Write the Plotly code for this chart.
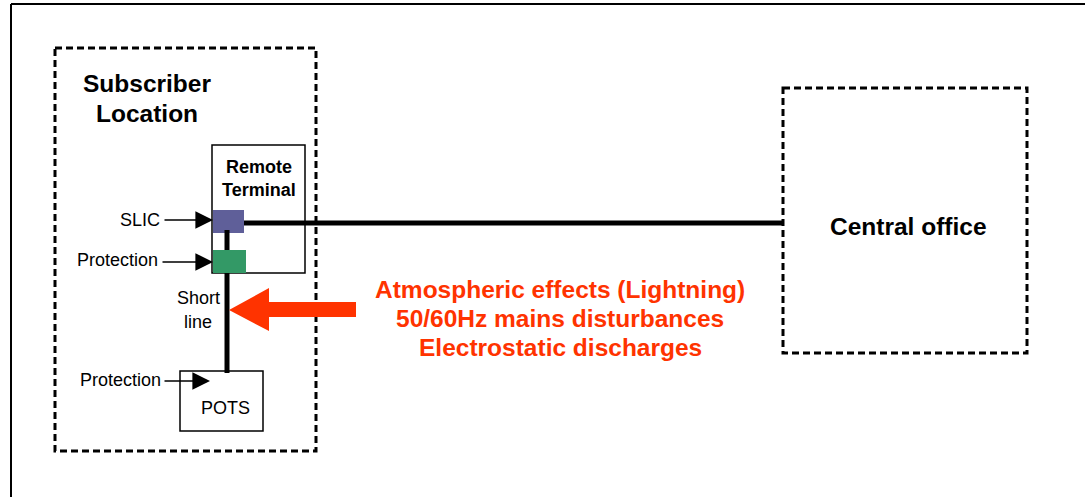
import plotly.graph_objects as go

W, H = 1085, 497
FONT = "Liberation Sans, Arial, sans-serif"
RED = "#ff3300"

# ---- diagram content ----
frame_lines = [(11, 4, 1085, 4), (11, 4, 11, 497)]
dashed_boxes = [(55, 48, 316, 451), (783, 88, 1027, 353)]           # subscriber, central office
solid_boxes = [(212, 145, 305, 273), (180, 371, 263, 431)]          # remote terminal, POTS
filled_blocks = [((213, 210, 244, 233), "#5f5f99"), ((213, 250, 246, 273), "#339966")]  # SLIC, protection
wires = [(244, 223, 783, 223), (227, 230, 227, 250), (227, 273, 227, 373)]

bold_labels = [("Subscriber", 147, 83, 24.5), ("Location", 147, 113, 24.5),
               ("Remote", 259, 167, 18), ("Terminal", 259, 190, 18),
               ("Central office", 908, 226, 24.5)]
plain_labels = [("SLIC", 140, 220), ("Protection", 117, 260),
                ("Protection", 120, 380), ("Short", 198, 298),
                ("line", 198, 322), ("POTS", 225, 408)]
label_arrows = [(163, 220, 213, 220), (161, 262, 213, 262), (163, 381, 210, 381)]

threat_lines = ["Atmospheric effects (Lightning)", "50/60Hz mains disturbances",
                "Electrostatic discharges"]
threat_y = [289, 318, 347]
threat_x = 560
red_arrow = [(356, 302), (269, 302), (269, 288), (229, 310), (269, 331), (269, 317), (356, 317)]

fig = go.Figure()
fig.add_trace(go.Scatter(x=[0, W], y=[0, H], mode="markers", marker=dict(opacity=0),
                         hoverinfo="skip", showlegend=False))
shapes = []
for x0, y0, x1, y1 in frame_lines:
    shapes.append(dict(type="line", x0=x0, y0=y0, x1=x1, y1=y1, line=dict(color="black", width=2)))
for x0, y0, x1, y1 in dashed_boxes:
    shapes.append(dict(type="rect", x0=x0, y0=y0, x1=x1, y1=y1,
                       line=dict(color="black", width=3, dash="7px,4px")))
for x0, y0, x1, y1 in solid_boxes:
    shapes.append(dict(type="rect", x0=x0, y0=y0, x1=x1, y1=y1, line=dict(color="black", width=1.5)))
for (x0, y0, x1, y1), c in filled_blocks:
    shapes.append(dict(type="rect", x0=x0, y0=y0, x1=x1, y1=y1, fillcolor=c, line=dict(width=0)))
for x0, y0, x1, y1 in wires:
    shapes.append(dict(type="line", x0=x0, y0=y0, x1=x1, y1=y1, line=dict(color="black", width=5)))
path = "M " + " L ".join(f"{x},{y}" for x, y in red_arrow) + " Z"
shapes.append(dict(type="path", path=path, fillcolor=RED, line=dict(width=0)))

ann = []
for t, x, y, s in bold_labels:
    ann.append(dict(text=f"<b>{t}</b>", x=x, y=y, showarrow=False, xanchor="center", yanchor="middle",
                    font=dict(family=FONT, size=s, color="black")))
for t, x, y in plain_labels:
    ann.append(dict(text=t, x=x, y=y, showarrow=False, xanchor="center", yanchor="middle",
                    font=dict(family=FONT, size=18, color="black")))
for x0, y0, x1, y1 in label_arrows:
    ann.append(dict(text="", x=x1, y=y1, ax=x0, ay=y0, axref="x", ayref="y", xref="x", yref="y",
                    showarrow=True, arrowhead=2, arrowsize=2.2, arrowwidth=1.6, arrowcolor="black",
                    standoff=0, startstandoff=0))
for t, y in zip(threat_lines, threat_y):
    ann.append(dict(text=f"<b>{t}</b>", x=threat_x, y=y, showarrow=False, xanchor="center",
                    yanchor="middle", font=dict(family=FONT, size=24.5, color=RED)))

fig.update_layout(width=W, height=H, margin=dict(l=0, r=0, t=0, b=0),
                  paper_bgcolor="white", plot_bgcolor="white",
                  xaxis=dict(range=[0, W], visible=False, fixedrange=True),
                  yaxis=dict(range=[H, 0], visible=False, fixedrange=True),
                  shapes=shapes, annotations=ann, showlegend=False)
fig.write_html("out.html", config={"displayModeBar": False},
               post_script="document.body.style.margin='0';document.body.style.overflow='hidden';")
